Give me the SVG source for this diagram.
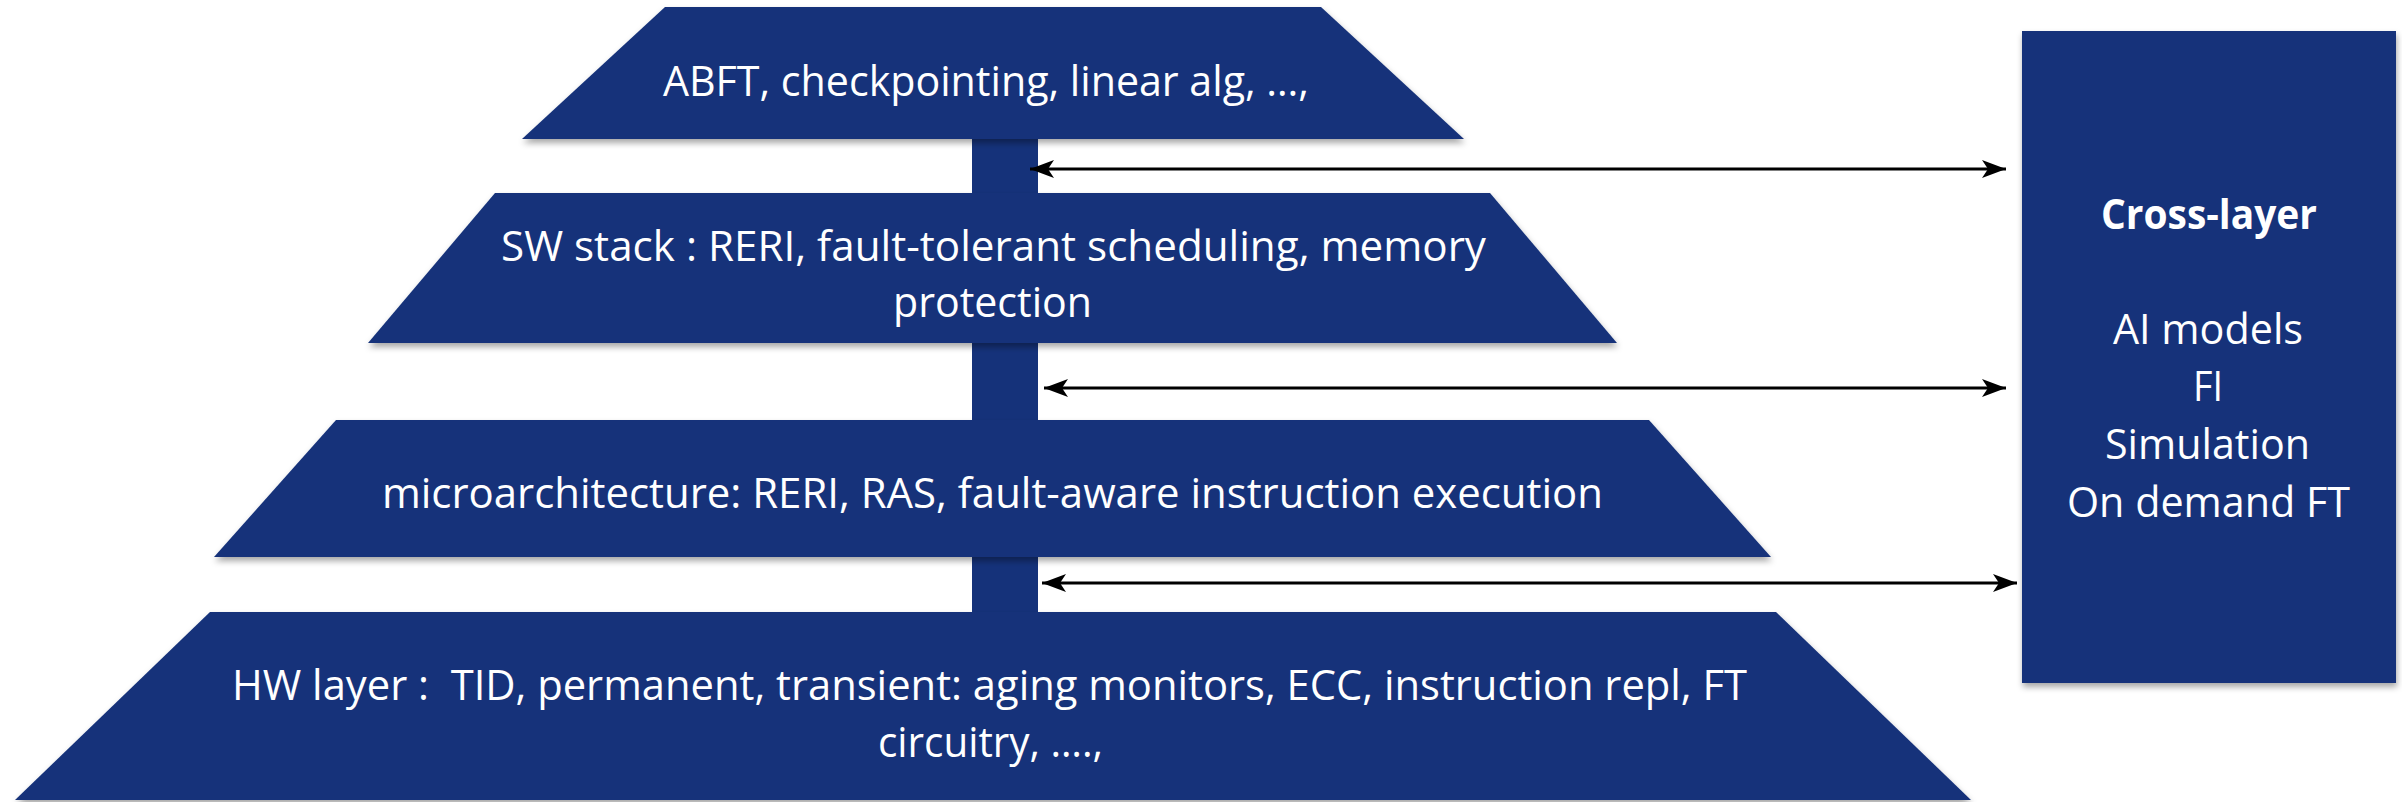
<svg xmlns="http://www.w3.org/2000/svg" width="2402" height="802" viewBox="0 0 2402 802">
  <style>
    .shape { fill: #15327a; }
    .lbl { font-family: "Open Sans", "Liberation Sans", sans-serif; font-size: 42px; fill: #ffffff; text-anchor: middle; white-space: pre; }
    .bold { font-weight: bold; }
    .conn { stroke: #000000; stroke-width: 3; fill: none; }
  </style>
  <defs>
    <filter id="shadow" x="-5%" y="-10%" width="110%" height="130%">
      <feDropShadow dx="1" dy="4" stdDeviation="3" flood-color="#000000" flood-opacity="0.35"/>
    </filter>
    <marker id="arrow" markerUnits="userSpaceOnUse" markerWidth="24" markerHeight="18" viewBox="0 0 24 18" refX="24" refY="9" orient="auto-start-reverse">
      <path d="M0,0 L24,9 L0,18 L6,9 z" fill="#000000"/>
    </marker>
  </defs>
  <rect width="2402" height="802" fill="#ffffff"/>

  <g id="stem">
    <rect class="shape" x="972" y="130" width="66" height="490"/>
  </g>

  <g id="layer-app">
    <polygon class="shape" filter="url(#shadow)" points="665,7 1321,7 1464,139 522,139"/>
    <text class="lbl" x="986" y="96" textLength="646" lengthAdjust="spacingAndGlyphs">ABFT, checkpointing, linear alg, …,</text>
  </g>

  <g id="layer-sw">
    <polygon class="shape" filter="url(#shadow)" points="495,193 1490,193 1617,343 368,343"/>
    <text class="lbl" x="993.5" y="261" textLength="985" lengthAdjust="spacingAndGlyphs">SW stack : RERI, fault-tolerant scheduling, memory</text>
    <text class="lbl" x="992.5" y="317" textLength="199" lengthAdjust="spacingAndGlyphs">protection</text>
  </g>

  <g id="layer-uarch">
    <polygon class="shape" filter="url(#shadow)" points="336,420 1649,420 1771,557 214,557"/>
    <text class="lbl" x="992.5" y="508" textLength="1221" lengthAdjust="spacingAndGlyphs">microarchitecture: RERI, RAS, fault-aware instruction execution</text>
  </g>

  <g id="layer-hw">
    <polygon class="shape" filter="url(#shadow)" points="210,612 1776,612 1971,800 15,800"/>
    <text class="lbl" x="989.5" y="700" textLength="1515" lengthAdjust="spacingAndGlyphs">HW layer :  TID, permanent, transient: aging monitors, ECC, instruction repl, FT</text>
    <text class="lbl" x="990.5" y="757" textLength="225" lengthAdjust="spacingAndGlyphs">circuitry, ….,</text>
  </g>

  <g id="cross-layer">
    <rect class="shape" filter="url(#shadow)" x="2022" y="31" width="374" height="652"/>
    <text class="lbl bold" x="2209" y="229" textLength="216" lengthAdjust="spacingAndGlyphs">Cross-layer</text>
    <text class="lbl" x="2208" y="344" textLength="190" lengthAdjust="spacingAndGlyphs">AI models</text>
    <text class="lbl" x="2208" y="401" textLength="30" lengthAdjust="spacingAndGlyphs">FI</text>
    <text class="lbl" x="2207.5" y="459" textLength="205" lengthAdjust="spacingAndGlyphs">Simulation</text>
    <text class="lbl" x="2208.5" y="517" textLength="283" lengthAdjust="spacingAndGlyphs">On demand FT</text>
  </g>

  <g id="connectors">
    <line class="conn" x1="1030" y1="169" x2="2006" y2="169" marker-start="url(#arrow)" marker-end="url(#arrow)"/>
    <line class="conn" x1="1044" y1="388" x2="2006" y2="388" marker-start="url(#arrow)" marker-end="url(#arrow)"/>
    <line class="conn" x1="1042" y1="583" x2="2017" y2="583" marker-start="url(#arrow)" marker-end="url(#arrow)"/>
  </g>
</svg>
